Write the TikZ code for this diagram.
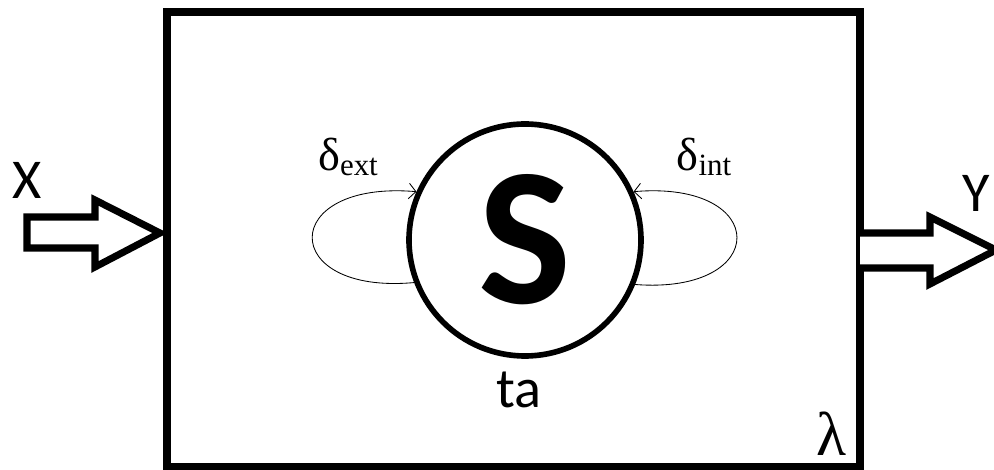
\documentclass[tikz,border=0pt]{standalone}
\usepackage{fontspec}
\setsansfont{Carlito}
\newfontfamily\tmsfont{Liberation Serif}
\usetikzlibrary{arrows.meta, positioning, calc}

\begin{document}
\begin{tikzpicture}[
    blockarrow/.style={draw, line width=5pt, line join=miter, fill=white},
    loop/.style={line width=0.6pt, -{Straight Barb[length=5pt, width=11pt]}},
    lbl/.style={inner sep=0, font=\sffamily\fontsize{40}{44}\selectfont},
    trans/.style={inner sep=0, font=\tmsfont\fontsize{33}{36}\selectfont}]
\useasboundingbox (0,0) rectangle (24.85,11.75);
% system box
\node[draw, line width=5pt, minimum width=17.325cm, minimum height=11.375cm,
      inner sep=0] (box) at (12.8375,5.7625) {};
% state
\node[draw, circle, line width=4pt, minimum size=5.8cm, inner sep=0,
      font=\sffamily\bfseries\fontsize{140}{145}\selectfont] (S) at (13.125,5.75) {S};
\node[lbl] (ta) at (12.975,2.0) {ta};
% ports
\draw[blockarrow] (0.675,6.325) -- (2.375,6.325) -- (2.375,6.75) -- (4.0,5.925)
    -- (2.375,5.075) -- (2.375,5.55) -- (0.675,5.55) -- cycle;
\draw[blockarrow] (21.5,5.925) -- (23.25,5.925) -- (23.25,6.325) -- (24.9,5.5)
    -- (23.25,4.65) -- (23.25,5.05) -- (21.5,5.05);
\node[lbl] (X) at (0.675,7.25) {X};
\node[lbl] (Y) at (24.4,6.925) {Y};
% transitions
\draw[loop] (S.201) .. controls (6.95,4.375) and (6.95,7.25) .. (S.156);
\draw[loop] (S.338) .. controls (19.275,4.375) and (19.275,7.25) .. (S.24);
\node[trans] (dext) at (8.7,7.825) {δ\raisebox{-3pt}{\fontsize{22}{23}\selectfont ext}};
\node[trans] (dint) at (17.6,7.825) {δ\raisebox{-3pt}{\fontsize{22}{23}\selectfont int}};
\node[inner sep=0, font=\tmsfont\fontsize{44}{46}\selectfont] (lam) at (20.775,0.9) {λ};
\end{tikzpicture}
\end{document}
